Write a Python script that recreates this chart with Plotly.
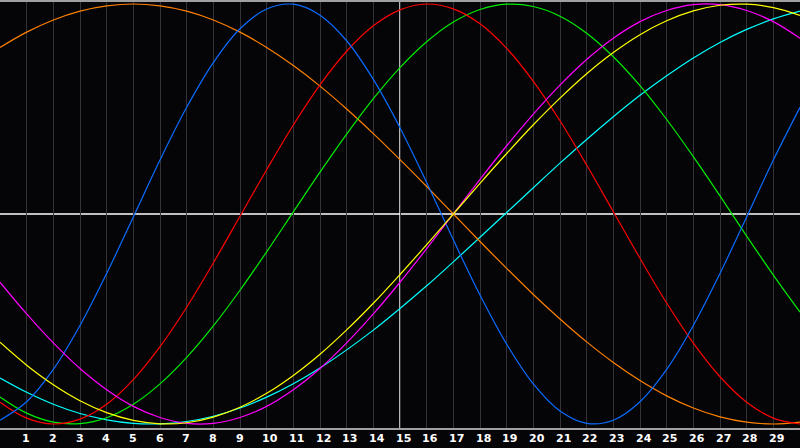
import plotly.graph_objects as go

days = list(range(0, 31))

physical = [-0.982, -0.894, -0.740, -0.531, -0.283, -0.014, 0.257, 0.508, 0.721, 0.882,
            0.976, 0.999, 0.947, 0.825, 0.641, 0.411, 0.150, -0.123, -0.386, -0.620,
            -0.809, -0.938, -0.997, -0.982, -0.894, -0.740, -0.531, -0.283, -0.014, 0.257, 0.508]
emotional = [-0.896, -0.972, -1.000, -0.977, -0.906, -0.789, -0.632, -0.444, -0.233, -0.011,
             0.211, 0.424, 0.615, 0.775, 0.896, 0.972, 1.000, 0.977, 0.906, 0.789,
             0.632, 0.444, 0.233, 0.011, -0.211, -0.424, -0.615, -0.775, -0.896, -0.972, -1.000]
intellectual = [-0.871, -0.948, -0.991, -0.998, -0.970, -0.906, -0.809, -0.683, -0.533, -0.363,
                -0.180, 0.010, 0.199, 0.380, 0.549, 0.697, 0.820, 0.914, 0.974, 0.999,
                0.988, 0.942, 0.861, 0.749, 0.611, 0.450, 0.273, 0.086, -0.105, -0.291, -0.467]
intuitive = [-0.325, -0.476, -0.614, -0.736, -0.837, -0.916, -0.969, -0.997, -0.997, -0.969,
             -0.916, -0.837, -0.736, -0.614, -0.476, -0.325, -0.165, 0.000, 0.165, 0.325,
             0.476, 0.614, 0.736, 0.837, 0.916, 0.969, 0.997, 0.997, 0.969, 0.916, 0.837]
aesthetic = [-0.611, -0.720, -0.813, -0.889, -0.946, -0.983, -0.999, -0.994, -0.967, -0.920,
             -0.854, -0.769, -0.668, -0.552, -0.425, -0.288, -0.146, 0.000, 0.146, 0.288,
             0.425, 0.552, 0.668, 0.769, 0.854, 0.920, 0.967, 0.994, 0.999, 0.983, 0.946]
awareness = [0.793, 0.866, 0.924, 0.966, 0.991, 1.000, 0.991, 0.966, 0.924, 0.866,
             0.793, 0.707, 0.609, 0.500, 0.383, 0.259, 0.131, 0.000, -0.131, -0.259,
             -0.383, -0.500, -0.609, -0.707, -0.793, -0.866, -0.924, -0.966, -0.991, -1.000, -0.991]
spiritual = [-0.781, -0.849, -0.906, -0.950, -0.980, -0.997, -0.999, -0.988, -0.963, -0.924,
             -0.872, -0.808, -0.733, -0.647, -0.553, -0.450, -0.342, -0.228, -0.111, 0.007,
             0.125, 0.242, 0.355, 0.463, 0.565, 0.658, 0.743, 0.817, 0.879, 0.929, 0.966]

series = [
    ("Spiritual", spiritual, "#00ffff"),
    ("Awareness", awareness, "#ff8000"),
    ("Intellectual", intellectual, "#00ee00"),
    ("Emotional", emotional, "#ff0000"),
    ("Physical", physical, "#0a6cff"),
    ("Intuitive", intuitive, "#ff00ff"),
    ("Aesthetic", aesthetic, "#ffff00"),
]

tick_days = list(range(1, 30))
tick_labels = [str(d) for d in tick_days]
center_day = 15

bg = "#050508"

fig = go.Figure()
for name, vals, col in series:
    fig.add_trace(go.Scatter(x=days, y=vals, mode="lines", name=name,
                             line=dict(color=col, width=1.2, shape="spline", smoothing=1.0),
                             hoverinfo="skip"))

fig.add_shape(type="line", xref="x", yref="paper", x0=center_day, x1=center_day, y0=0, y1=1,
              line=dict(color="#ffffff", width=1.4), layer="below")
fig.add_shape(type="line", xref="paper", yref="y", x0=0, x1=1, y0=0, y1=0,
              line=dict(color="#ffffff", width=1.4), layer="below")

for d, lab in zip(tick_days, tick_labels):
    fig.add_annotation(x=d, y=0, xref="x", yref="paper", text=lab, showarrow=False,
                       xanchor="left", yanchor="top", xshift=-6.5, yshift=-2,
                       font=dict(family="DejaVu Sans", size=11, color="#ffffff", weight="bold"))

fig.update_layout(
    width=800, height=448,
    margin=dict(l=0, r=0, t=0, b=20, pad=0),
    paper_bgcolor=bg, plot_bgcolor=bg,
    showlegend=False,
    xaxis=dict(range=[0, 30], tickvals=tick_days, showticklabels=False, ticks="",
               showgrid=True, gridcolor="#333337", gridwidth=1, zeroline=False,
               showline=True, linecolor="#a0a0a0", linewidth=1.5, mirror=True, fixedrange=True),
    yaxis=dict(range=[-1.019, 1.0095], showticklabels=False, ticks="", showgrid=False,
               zeroline=False, showline=True, linecolor="#a0a0a0", linewidth=1.5,
               mirror=False, fixedrange=True),
)

fig.write_html("out.html", config={"displayModeBar": False},
               post_script="document.body.style.margin='0';document.body.style.overflow='hidden';")
